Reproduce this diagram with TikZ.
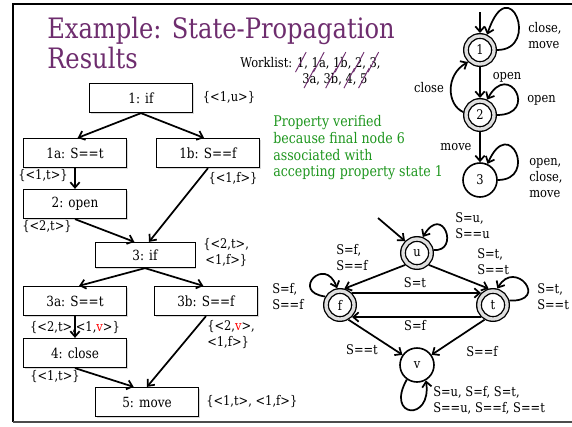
\documentclass[tikz,border=0pt]{standalone}
\usepackage{fontspec}
\setmainfont{DejaVu Serif}[FakeStretch=0.86]
\usepackage{graphicx}
\usetikzlibrary{arrows.meta,shadows}
\definecolor{ttl}{RGB}{110,45,110}
\definecolor{grn}{RGB}{30,150,30}
\newsavebox\wlbox
\newcommand\wstrike[1]{\sbox\wlbox{#1}\rlap{\usebox\wlbox}\hbox to\wd\wlbox{\hss\raisebox{-4pt}{\textcolor{ttl}{\rotatebox{62}{\rule{17pt}{0.7pt}}}}\hss}}
\begin{document}
\begin{tikzpicture}[x=0.75pt,y=0.75pt,
  box/.style={draw, line width=0.7pt, fill=white, minimum width=77pt, minimum height=22pt, inner sep=1pt,
    font=\fontsize{10.5}{12}\selectfont, drop shadow={shadow xshift=1pt,shadow yshift=-1pt,opacity=0.3}},
  arr/.style={line width=1.3pt, -{Straight Barb[length=4pt,width=7pt]}},
  lbl/.style={inner sep=0pt, font=\fontsize{10}{12}\selectfont, align=left},
  dstate/.style={circle, draw, line width=1pt, double=gray!25, double distance=2.5pt, minimum size=21pt,
    inner sep=0pt, outer sep=2.25pt, font=\fontsize{10}{12}\selectfont},
  sstate/.style={circle, draw, line width=1.2pt, minimum size=25.5pt, inner sep=0pt, outer sep=0.6pt,
    font=\fontsize{10}{12}\selectfont}]
\useasboundingbox (0,0) rectangle (572,-426);
% frame
\draw[line width=1.6pt] (13,-4) -- (13,-422);
\draw[line width=1.6pt] (12.4,-4) -- (572,-4);
\draw[line width=1.2pt, gray!60!black] (13,-422) -- (572,-422);
% title
\node[anchor=base west, inner sep=0pt, text=ttl, font=\fontsize{21.1}{24}\selectfont] (title1) at (47,-38) {Example: State-Propagation};
\node[anchor=base west, inner sep=0pt, text=ttl, font=\fontsize{21.1}{24}\selectfont] (title2) at (47,-68) {Results};
% worklist
\node[anchor=base west, inner sep=0pt, font=\fontsize{10}{12}\selectfont] (wl1) at (240,-67)
  {Worklist: \wstrike{1}, \wstrike{1a}, \wstrike{1b}, \wstrike{2}, \wstrike{3},};
\node[anchor=base west, inner sep=0pt, font=\fontsize{10}{12}\selectfont] (wl2) at (302,-83)
  {\wstrike{3a}, \wstrike{3b}, \wstrike{4}, \wstrike{5}};
% green note
\node[anchor=north west, inner sep=0pt, align=left, text=grn, font=\fontsize{11}{12.6}\selectfont] (note) at (273,-115)
  {Property verified\\because final node 6\\associated with\\accepting property state 1};
% flow graph
\node[box] (n1) at (141,-98) {1: if};
\node[box] (n1a) at (75,-153) {1a: S==t};
\node[box] (n1b) at (208,-153) {1b: S==f};
\node[box] (n2) at (75,-204) {2: open};
\node[box, minimum width=75pt, minimum height=19pt] (n3) at (145,-255) {3: if};
\node[box] (n3a) at (75,-301) {3a: S==t};
\node[box] (n3b) at (206,-301) {3b: S==f};
\node[box] (n4) at (75,-353) {4: close};
\node[box] (n5) at (147,-402) {5: move};
\draw[arr] (n1.south) -- ([xshift=2]n1a.north);
\draw[arr] (n1.south) -- ([xshift=-3]n1b.north);
\draw[arr] (n1a.south) -- (n2.north);
\draw[arr] (n2.south) -- ([xshift=-8]n3.north);
\draw[arr] (n1b.south) -- ([xshift=3]n3.north);
\draw[arr] (n3.south) -- ([xshift=3]n3a.north);
\draw[arr] (n3.south) -- ([xshift=-2]n3b.north);
\draw[arr] (n3a.south) -- (n4.north);
\draw[arr] (n4.south) -- ([xshift=-10]n5.north);
\draw[arr] (n3b.south) -- (n5.north);
% flow labels
\node[lbl] (l1) at (229,-98) {\{<1,u>\}};
\node[lbl] (l1a) at (43,-176) {\{<1,t>\}};
\node[lbl] (l1b) at (233,-179) {\{<1,f>\}};
\node[lbl] (l2) at (47,-227) {\{<2,t>\}};
\node[lbl, anchor=west] (l3) at (203,-253) {\{<2,t>,\\\,<1,f>\}};
\node[lbl] (l3a) at (75,-328) {\{<2,t>,<1,\textcolor{red}{v}>\}};
\node[lbl, anchor=west] (l3b) at (207,-335) {\{<2,\textcolor{red}{v}>,\\<1,f>\}};
\node[lbl] (l4) at (55,-377) {\{<1,t>\}};
\node[lbl, anchor=west] (l5) at (206,-402) {\{<1,t>, <1,f>\}};
% property automaton
\node[dstate] (s1) at (480,-50) {1};
\node[dstate] (s2) at (480,-115) {2};
\node[sstate] (s3) at (480,-180) {3};
\coordinate (s1in) at (480,-12);
\draw[arr] (s1in) -- (s1.north);
\draw[arr] (s1.south) -- (s2.north);
\draw[arr] (s2.south) -- (s3.north);
\draw[arr] (s2.170) .. controls (447,-105) and (445,-75) .. (s1.225);
\draw[arr] (s1.0) .. controls (541,-50) and (509,32) .. (s1.65);
\draw[arr] (s2.0) .. controls (539,-115) and (509,-59.6) .. (s2.65);
\draw[arr] (s3.0) .. controls (538,-180) and (509.5,-113.9) .. (s3.65);
\node[lbl] (p12) at (507,-77) {open};
\node[lbl] (p21) at (429,-88) {close};
\node[lbl] (p23) at (456,-147) {move};
\node[lbl, anchor=west] (p11) at (528,-36) {close,\\move};
\node[lbl, anchor=west] (p22) at (527,-100) {open};
\node[lbl, anchor=west] (p33) at (529,-178) {open,\\close,\\move};
% typestate automaton
\node[dstate] (u) at (417,-253) {u};
\node[dstate] (f) at (340,-305) {f};
\node[dstate] (t) at (493,-305) {t};
\node[sstate] (v) at (417,-365) {v};
\coordinate (uin) at (378,-218);
\draw[arr] (uin) -- (u.135);
\draw[arr] (u.225) -- (f.75);
\draw[arr] (u.315) -- (t.105);
\draw[arr] (f.45) -- (t.135);
\draw[arr] (t.225) -- (f.315);
\draw[arr] (f.300) -- (v.145);
\draw[arr] (t.240) -- (v.35);
\draw[arr] (u.10) .. controls (460,-252) and (443,-203) .. (u.70);
\draw[arr] (f.150) .. controls (290,-292) and (325,-255) .. (f.100);
\draw[arr] (t.15) .. controls (550,-302) and (515,-258) .. (t.75);
\draw[arr] (v.235) .. controls (385,-418) and (432,-422) .. (v.300);
\node[lbl, anchor=west] (lu) at (455,-226) {S=u,\\S==u};
\node[lbl, anchor=west] (luf) at (336,-258) {S=f,\\S==f};
\node[lbl, anchor=west] (lut) at (477,-262) {S=t,\\S==t};
\node[lbl, anchor=west] (lf) at (272,-297) {S=f,\\S==f};
\node[lbl, anchor=west] (lt) at (537,-297) {S=t,\\S==t};
\node[lbl] (lft) at (415,-283) {S=t};
\node[lbl] (ltf) at (415,-326) {S=f};
\node[lbl] (lfv) at (362,-350) {S==t};
\node[lbl] (ltv) at (482,-352) {S==f};
\node[lbl, anchor=west] (lv) at (433,-400) {S=u, S=f, S=t,\\S==u, S==f, S==t};
\end{tikzpicture}
\end{document}
